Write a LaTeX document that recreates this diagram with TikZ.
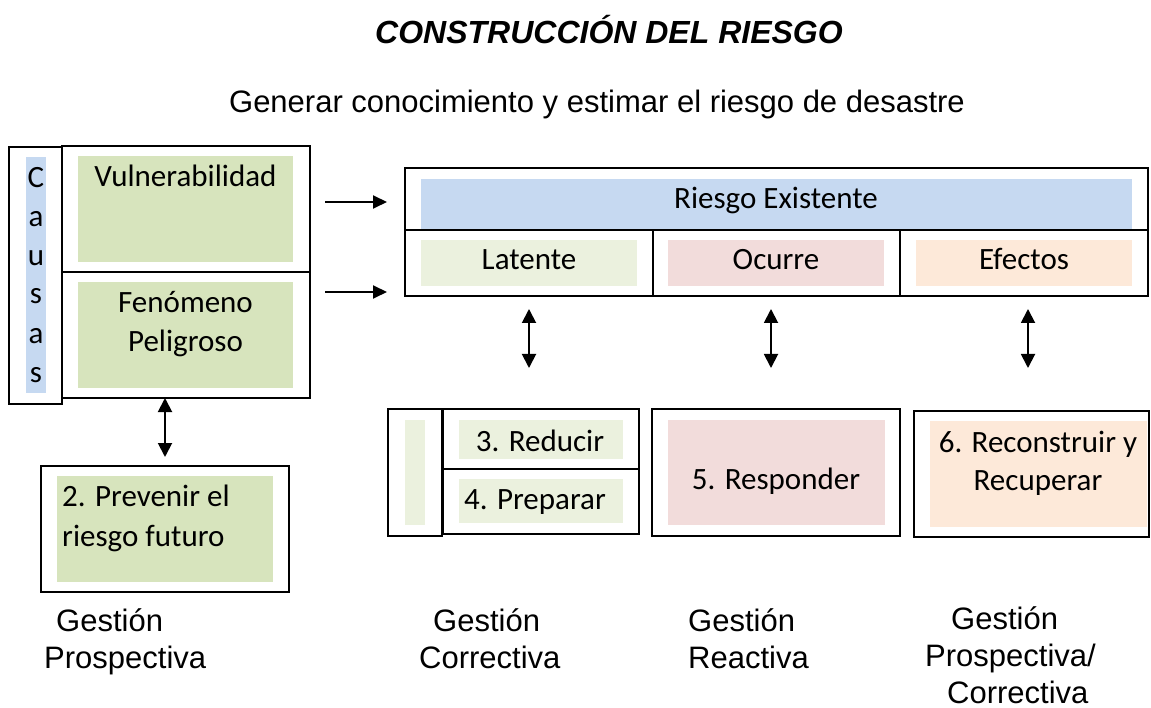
\documentclass[tikz,border=0pt]{standalone}
\usepackage{fontspec}
\setmainfont{Carlito}
\newfontfamily\arialf{Liberation Sans}
\usetikzlibrary{arrows.meta}
\definecolor{cblue}{HTML}{C6D9F1}
\definecolor{cgreen}{HTML}{D7E4BD}
\definecolor{clgreen}{HTML}{EBF1DE}
\definecolor{cpink}{HTML}{F2DCDB}
\definecolor{cpeach}{HTML}{FDE9D9}
\newcommand\rbox[6]{\node[#6, minimum width={(#4-#2)*1pt}, minimum height={(#5-#3)*1pt}] (#1) at ({(#2+#4)/2},{(#3+#5)/2}) {};}
\begin{document}
\begin{tikzpicture}[x=1pt,y=-1pt,
  box/.style={draw, line width=1.8pt, inner sep=0pt, outer sep=0pt},
  fbox/.style={inner sep=0pt, outer sep=0pt, fill=#1},
  txt/.style={font=\fontsize{31}{39}\selectfont, inner sep=0pt, anchor=base},
  lab/.style={font=\arialf\fontsize{31}{37}\selectfont, inner sep=0pt, anchor=base west, align=left},
  arr/.style={line width=1.9pt, -{Triangle[length=14pt,width=13pt]}},
  dbl/.style={line width=1.9pt, {Triangle[length=14pt,width=14pt]}-{Triangle[length=14pt,width=14pt]}}]
\useasboundingbox (0,0) rectangle (1151,708);
% titles
\node[font=\arialf\bfseries\itshape\fontsize{32}{38}\selectfont, inner sep=0pt, anchor=base] (title) at (609,44) {CONSTRUCCIÓN DEL RIESGO};
\node[font=\arialf\fontsize{31}{38}\selectfont, inner sep=0pt, anchor=base] (sub) at (597,113) {Generar conocimiento y estimar el riesgo de desastre};
% fills
\rbox{causasF}{26}{157}{46}{393}{fbox=cblue}
\rbox{vulF}{78}{156}{293}{262}{fbox=cgreen}
\rbox{fenF}{78}{282}{293}{388}{fbox=cgreen}
\rbox{prevF}{57}{476}{273}{582}{fbox=cgreen}
\rbox{rexF}{421}{179}{1132}{229}{fbox=cblue}
\rbox{latF}{421}{240}{637}{286}{fbox=clgreen}
\rbox{ocuF}{668}{240}{884}{286}{fbox=cpink}
\rbox{efeF}{916}{240}{1132}{286}{fbox=cpeach}
\rbox{stripF}{405}{420}{425}{525}{fbox=clgreen}
\rbox{redF}{459}{420}{623}{459}{fbox=clgreen}
\rbox{prepF}{459}{479}{623}{523}{fbox=clgreen}
\rbox{respF}{668}{420}{885}{525}{fbox=cpink}
\rbox{recoF}{930}{421}{1147}{527}{fbox=cpeach}
% boxes
\rbox{causas}{9}{147}{62}{404}{box}
\rbox{vul}{62}{146}{310}{272}{box}
\rbox{fen}{62}{272}{310}{398}{box}
\rbox{prev}{41}{466}{289}{592}{box}
\rbox{rex}{405}{168}{1148}{230}{box}
\rbox{lat}{405}{230}{653}{296}{box}
\rbox{ocu}{653}{230}{900}{296}{box}
\rbox{efe}{900}{230}{1148}{296}{box}
\rbox{strip}{388}{409}{442}{536}{box}
\rbox{red}{443}{409}{639}{469}{box}
\rbox{prep}{443}{469}{639}{534}{box}
\rbox{resp}{652}{409}{900}{536}{box}
\rbox{reco}{914}{411}{1149}{537}{box}
% texts (multi-line nodes: base = last line)
\node[txt, align=center] (tcausas) at (36,382) {C\\a\\u\\s\\a\\s};
\node[txt] (tvul) at (185.5,187) {Vulnerabilidad};
\node[txt, align=center] (tfen) at (185.5,352) {Fenómeno\\Peligroso};
\node[txt, align=left, anchor=base west, font=\fontsize{31}{40}\selectfont] (tprev) at (62,546) {2. Prevenir el\\riesgo futuro};
\node[txt] (trex) at (776,209) {Riesgo Existente};
\node[txt] (tlat) at (529,270) {Latente};
\node[txt] (tocu) at (776,270) {Ocurre};
\node[txt] (tefe) at (1024,270) {Efectos};
\node[txt] (tred) at (540,451) {3. Reducir};
\node[txt] (tprep) at (535,509) {4. Preparar};
\node[txt] (tresp) at (776,489) {5. Responder};
\node[txt, align=center, font=\fontsize{31}{38}\selectfont] (treco) at (1038,490) {6. Reconstruir y\\Recuperar};
% arrows
\draw[arr, shorten <=15pt, shorten >=18pt] (vul.east |- 0,202) -- (rex.west |- 0,202);
\draw[arr, shorten <=15pt, shorten >=18pt] (fen.east |- 0,292) -- (lat.west |- 0,292);
\draw[dbl, shorten >=9pt] (fen.south -| 165,0) -- (prev.north -| 165,0);
\draw[dbl, shorten <=13pt, shorten >=41pt] (lat.south -| 529,0) -- (strip.north -| 529,0);
\draw[dbl, shorten <=13pt, shorten >=41pt] (ocu.south -| 771,0) -- (resp.north -| 771,0);
\draw[dbl, shorten <=13pt, shorten >=43pt] (efe.south -| 1028,0) -- (reco.north -| 1028,0);
% bottom labels (base = last line)
\node[lab] (g1) at (44,668) {\hspace*{12pt}Gestión\\Prospectiva};
\node[lab] (g2) at (419,668) {\hspace*{14pt}Gestión\\Correctiva};
\node[lab] (g3) at (688,668) {Gestión\\Reactiva};
\node[lab] (g4) at (925,703) {\hspace*{26pt}Gestión\\Prospectiva/\\\hspace*{22pt}Correctiva};
\end{tikzpicture}
\end{document}
